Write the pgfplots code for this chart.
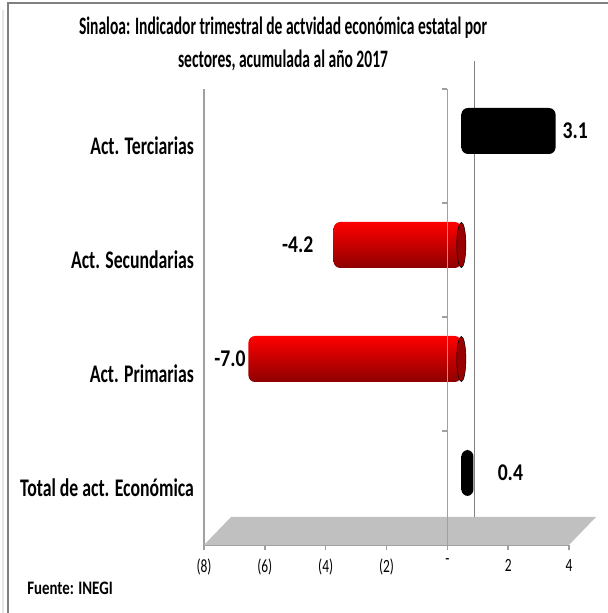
\documentclass[border=0pt]{standalone}
\usepackage{pgfplots}
\pgfplotsset{compat=1.18}
\usepackage{fontspec}
\setmainfont{Carlito}[FakeStretch=0.72]
\newfontfamily\titlefont{Carlito}[FakeStretch=0.62]
\newfontfamily\catfont{Carlito}[FakeStretch=0.70]
\newfontfamily\labfont{Carlito}[FakeStretch=0.82]
\newfontfamily\srcfont{Carlito}[FakeStretch=0.78]
\definecolor{floorgray}{HTML}{C0C0C0}
\definecolor{linegray}{HTML}{A0A0A0}
\definecolor{darkline}{HTML}{808080}
\pgfplotsset{
  redbar/.style={xbar, bar width=34.5pt, bar shift=0pt, draw=none,
    top color=red, middle color=red!95!white, bottom color=red!55!black,
    rounded corners=5pt, xshift=10.5pt, yshift=11.25pt,
    nodes near coords={\pgfmathprintnumber[fixed,fixed zerofill,precision=1,assume math mode=true]{\pgfplotspointmeta}},
    every node near coord/.append style={font=\labfont\fontsize{18pt}{20pt}\selectfont\bfseries, black, inner sep=2pt}},
  blackbar/.style={xbar, bar width=34.5pt, bar shift=0pt, draw=none,
    top color=black, middle color=black!85, bottom color=black,
    rounded corners=5pt, xshift=10.5pt, yshift=11.25pt,
    nodes near coords={\pgfmathprintnumber[fixed,fixed zerofill,precision=1,assume math mode=true]{\pgfplotspointmeta}},
    every node near coord/.append style={font=\labfont\fontsize{18pt}{20pt}\selectfont\bfseries, black, inner sep=2pt}},
}
\begin{document}
\begin{tikzpicture}[x=0.75pt,y=0.75pt]
\path[use as bounding box] (0,0) rectangle (607,613);
% outer frame
\draw[gray!20, line width=1.5pt] (2.5,0) -- (2.5,603);
\draw[gray, line width=1.5pt] (8,0) -- (8,610) -- (610,610);
% title
\node[align=center, font=\titlefont\fontsize{18.8pt}{24.75pt}\selectfont\bfseries] at (283,569)
  {Sinaloa: Indicador trimestral de actvidad económica estatal por\\sectores, acumulada al año 2017};
\node[anchor=west, font=\srcfont\fontsize{14.3pt}{17pt}\selectfont\bfseries, inner sep=0pt] at (27,25) {Fuente: INEGI};
\begin{axis}[
  at={(153pt,51pt)}, anchor=south west,
  scale only axis, width=273.75pt, height=342pt,
  xmin=-8, xmax=4, ymin=-0.5, ymax=3.5,
  clip=false,
  axis x line*=bottom, axis y line*=left,
  x axis line style={linegray, line width=1.2pt, -},
  y axis line style={linegray, line width=1pt, -},
  xtick={-8,-6,-4,-2,0,2,4},
  xticklabels={(8),(6),(4),(2),-,2,4},
  xtick align=outside,
  x tick style={linegray, line width=1pt},
  major tick length=4pt,
  xticklabel style={font=\fontsize{14pt}{16pt}\selectfont, yshift=-3pt},
  ytick={0,1,2,3},
  yticklabels={Total de act. Económica, Act. Primarias, Act. Secundarias, Act. Terciarias},
  y tick style={draw=none},
  yticklabel style={font=\catfont\fontsize{19pt}{21pt}\selectfont\bfseries, xshift=-4pt},
  /pgf/number format/assume math mode=true,
]
% floor
\fill[floorgray] (axis cs:-8,-0.5) -- (axis cs:4,-0.5) -- ([shift={(20.25pt,21pt)}]axis cs:4,-0.5) -- ([shift={(20.25pt,21pt)}]axis cs:-8,-0.5) -- cycle;
% back zero line
\draw[darkline, line width=1pt] ([shift={(20.25pt,21pt)}]axis cs:0,-0.5) -- ([shift={(20.25pt,21pt)}]axis cs:0,3.5);

\addplot[redbar] coordinates {(-7.0,1)};
\addplot[redbar, every node near coord/.append style={xshift=-13pt}] coordinates {(-4.2,2)};
\addplot[only marks, mark=*, mark size=17pt, xshift=10.5pt, yshift=11.25pt,
  mark options={xscale=0.2, draw=none, fill=red!60!black}] coordinates {(0,1) (0,2)};
\addplot[blackbar, every node near coord/.append style={xshift=16pt}] coordinates {(0.4,0)};
\addplot[blackbar, every node near coord/.append style={xshift=3pt}] coordinates {(3.1,3)};
% front category axis at zero
\draw[linegray, line width=1.2pt] (axis cs:0,-0.5) -- (axis cs:0,3.5);
\draw[linegray, line width=1pt] (axis cs:0,0.5) -- ++(-4pt,0pt);
\draw[linegray, line width=1pt] (axis cs:0,1.5) -- ++(-4pt,0pt);
\draw[linegray, line width=1pt] (axis cs:0,2.5) -- ++(-4pt,0pt);
\draw[linegray, line width=1pt] (axis cs:0,3.5) -- ++(-4pt,0pt);
\end{axis}
\end{tikzpicture}
\end{document}
